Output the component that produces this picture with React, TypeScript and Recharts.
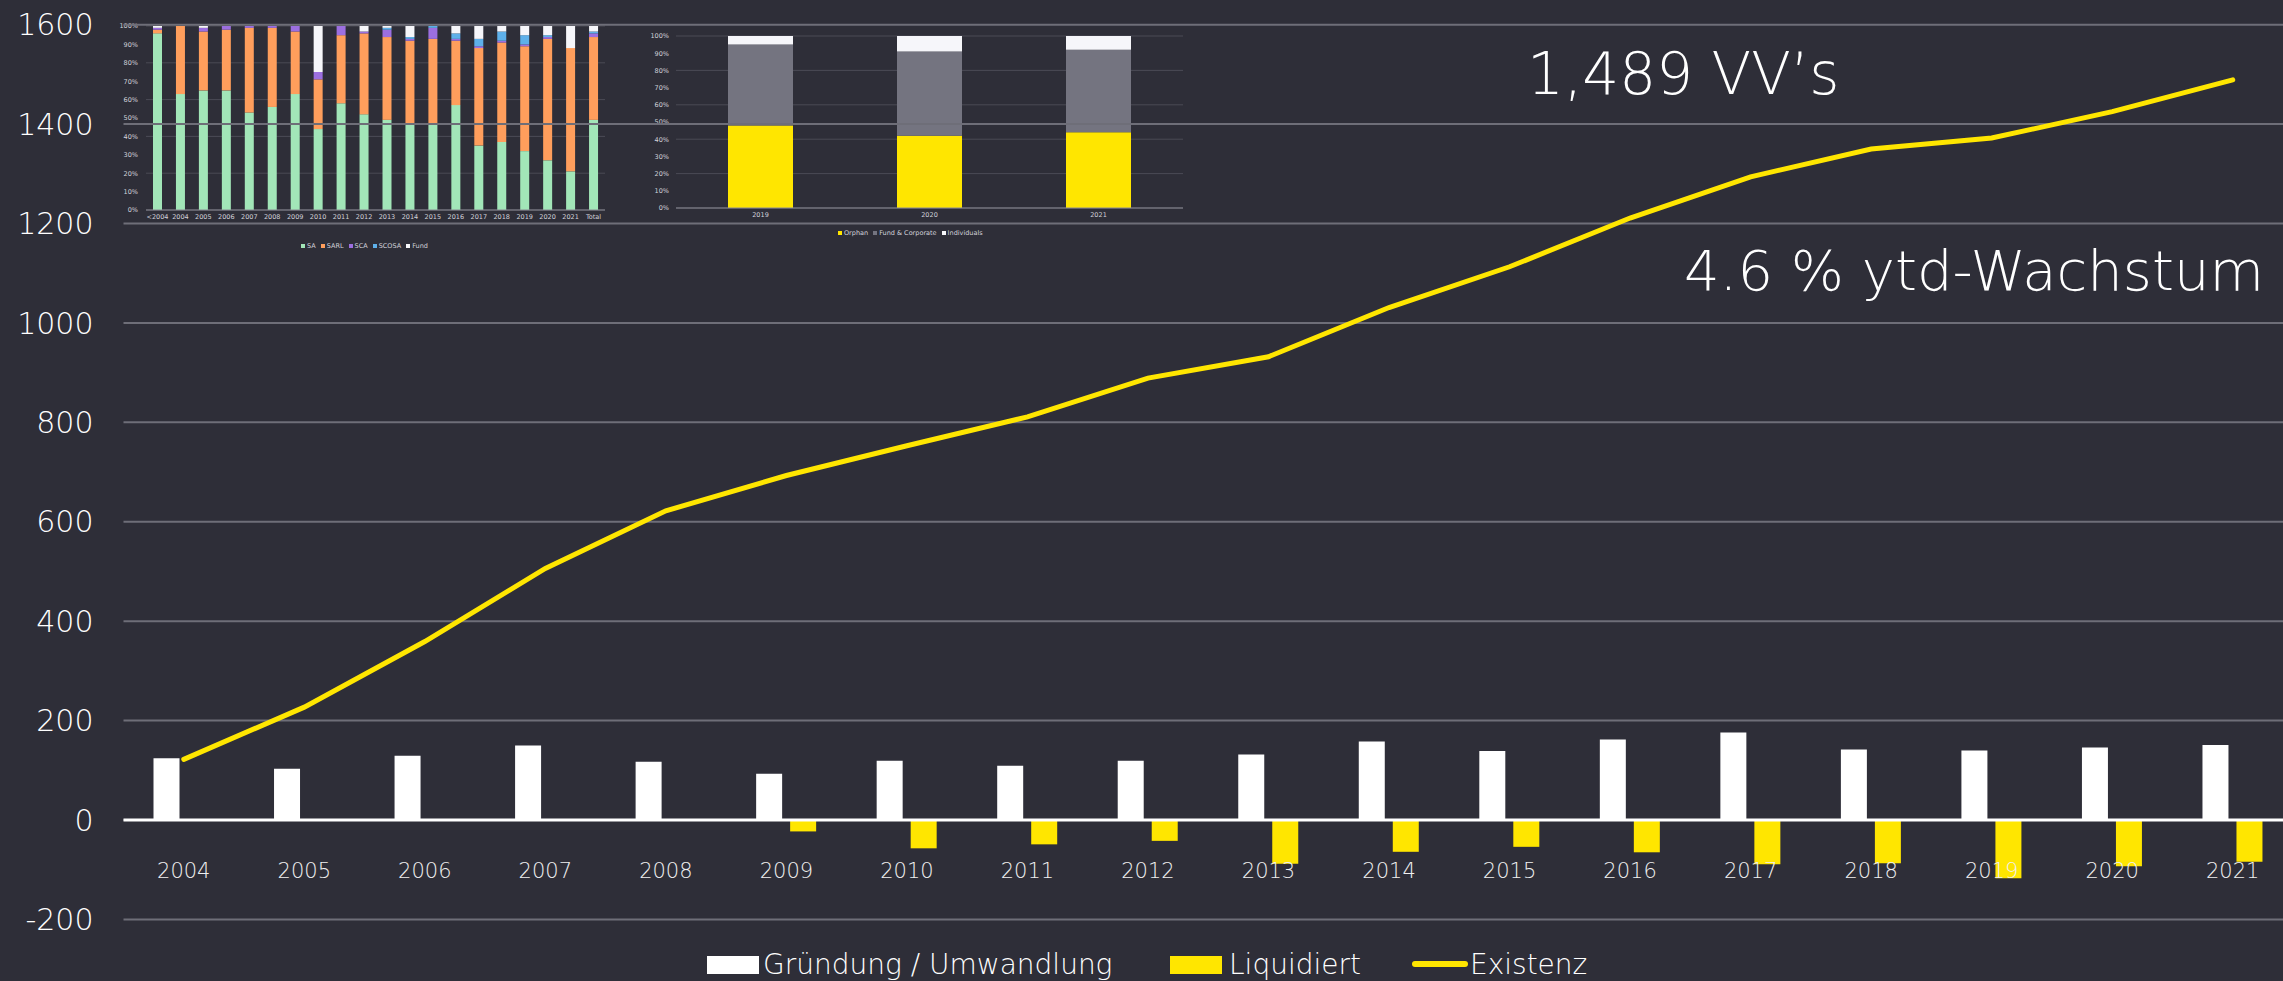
import React from 'react';
import {
  ComposedChart,
  BarChart,
  Bar,
  Line,
  XAxis,
  YAxis,
  CartesianGrid,
  ReferenceLine,
} from 'recharts';

// main chart: company foundings, liquidations and total count per year
const years = ['2004', '2005', '2006', '2007', '2008', '2009', '2010', '2011', '2012', '2013', '2014', '2015', '2016', '2017', '2018', '2019', '2020', '2021'];
const gruendung = [124, 103, 129, 150, 117, 93, 119, 109, 119, 132, 158, 139, 162, 176, 142, 140, 146, 151];
const liquidiert = [null, null, null, null, null, -23, -57, -49, -42, -88, -64, -54, -65, -89, -87, -117, -93, -84];
const existenz = [122, 227, 359, 506, 622, 693, 753, 811, 889, 932, 1031, 1113, 1211, 1294, 1350, 1372, 1425, 1489];
const yTicks = [-200, 0, 200, 400, 600, 800, 1000, 1200, 1400, 1600];

// inset 1: legal form share per year
const formCats = ['<2004', '2004', '2005', '2006', '2007', '2008', '2009', '2010', '2011', '2012', '2013', '2014', '2015', '2016', '2017', '2018', '2019', '2020', '2021', 'Total'];
const saShare = [96, 63, 65, 65, 53, 56, 63, 44, 58, 52, 49, 47, 47, 57, 35, 37, 32, 27, 21, 49];
const sarlShare = [2, 37, 32, 33, 46, 43, 34, 27, 37, 44, 45, 45, 46, 35, 53, 54, 57, 66, 67, 45];
const scaShare = [1, 0, 2, 2, 1, 1, 3, 4, 5, 1, 4, 1, 6, 1, 1, 1, 1, 1, 0, 2];
const scosaShare = [0, 0, 0, 0, 0, 0, 0, 0, 0, 0, 1, 1, 1, 3, 4, 5, 5, 1, 0, 1];
const fundShare = [1, 0, 1, 0, 0, 0, 0, 25, 0, 3, 1, 6, 0, 4, 7, 3, 5, 5, 12, 3];

// inset 2: ownership share
const ownerYears = ['2019', '2020', '2021'];
const orphan = [48, 42, 44];
const fundCorp = [47, 49, 48];
const individuals = [5, 9, 8];

const mainData = years.map((year, i) => ({
  year,
  gruendung: gruendung[i],
  liquidiert: liquidiert[i],
  existenz: existenz[i],
}));

const formData = formCats.map((cat, i) => ({
  cat,
  SA: saShare[i],
  SARL: sarlShare[i],
  SCA: scaShare[i],
  SCOSA: scosaShare[i],
  Fund: fundShare[i],
}));

const ownerData = ownerYears.map((year, i) => ({
  year,
  orphan: orphan[i],
  fundCorp: fundCorp[i],
  individuals: individuals[i],
}));

const BG = '#2e2e38';
const YELLOW = '#ffe600';
const FONT = "'DejaVu Sans', sans-serif";
const pctTicks = [0, 0.1, 0.2, 0.3, 0.4, 0.5, 0.6, 0.7, 0.8, 0.9, 1];
const pct = (v: number) => `${Math.round(v * 100)}%`;
const smallTick = { fill: '#d2d2da', fontSize: 6.5, fontFamily: FONT };

// year labels sit just under the zero line, not at the bottom of the plot
const YearTick = ({ x, y, payload }: any) => (
  <text
    x={x}
    y={y}
    dy={-48}
    textAnchor="middle"
    dominantBaseline="central"
    fill="#f0f0f0"
    fontSize={21}
    fontWeight={200}
    fontFamily={FONT}
  >
    {payload.value}
  </text>
);

const SmallLegend = ({ left, top, items }: { left: number; top: number; items: { label: string; color: string }[] }) => (
  <div style={{ position: 'absolute', left, top, display: 'flex', gap: 5, fontFamily: FONT, fontSize: 6.5, color: '#d2d2da', lineHeight: '8px' }}>
    {items.map((it) => (
      <div key={it.label} style={{ display: 'flex', alignItems: 'center', gap: 2 }}>
        <span style={{ width: 4, height: 4, background: it.color, display: 'inline-block' }} />
        {it.label}
      </div>
    ))}
  </div>
);

const App: React.FC = () => {
  return (
    <div style={{ position: 'fixed', left: 0, top: 0, width: 2283, height: 981, background: BG, overflow: 'hidden' }}>
      {/* inset: legal forms */}
      <div style={{ position: 'absolute', left: 0, top: 0 }}>
        <BarChart width={640} height={240} data={formData} stackOffset="expand" margin={{ top: 26, right: 35, left: 0, bottom: 16 }} barSize={9}>
          <CartesianGrid vertical={false} stroke="#4a4a55" strokeWidth={1} />
          <XAxis dataKey="cat" axisLine={{ stroke: '#8a8a94' }} tickLine={false} tickSize={0} tickMargin={4} height={14} interval={0} tick={smallTick} />
          <YAxis width={146} domain={[0, 1]} ticks={pctTicks} tickFormatter={pct} axisLine={false} tickLine={false} tickSize={0} tickMargin={8} tick={smallTick} />
          <Bar dataKey="SA" stackId="f" fill="#a2e6b8" isAnimationActive={false} />
          <Bar dataKey="SARL" stackId="f" fill="#ff9e5c" isAnimationActive={false} />
          <Bar dataKey="SCA" stackId="f" fill="#9c6fe0" isAnimationActive={false} />
          <Bar dataKey="SCOSA" stackId="f" fill="#5eb0ea" isAnimationActive={false} />
          <Bar dataKey="Fund" stackId="f" fill="#f6f6fa" isAnimationActive={false} />
        </BarChart>
      </div>
      <SmallLegend
        left={301}
        top={242}
        items={[
          { label: 'SA', color: '#a2e6b8' },
          { label: 'SARL', color: '#ff9e5c' },
          { label: 'SCA', color: '#9c6fe0' },
          { label: 'SCOSA', color: '#5eb0ea' },
          { label: 'Fund', color: '#f6f6fa' },
        ]}
      />

      {/* inset: ownership */}
      <div style={{ position: 'absolute', left: 560, top: 0 }}>
        <BarChart width={640} height={240} data={ownerData} stackOffset="expand" margin={{ top: 36, right: 17, left: 0, bottom: 18 }} barSize={65}>
          <CartesianGrid vertical={false} stroke="#4a4a55" strokeWidth={1} />
          <XAxis dataKey="year" axisLine={{ stroke: '#8a8a94' }} tickLine={false} tickSize={0} tickMargin={4} height={14} tick={smallTick} />
          <YAxis width={116} domain={[0, 1]} ticks={pctTicks} tickFormatter={pct} axisLine={false} tickLine={false} tickSize={0} tickMargin={7} tick={smallTick} />
          <Bar dataKey="orphan" stackId="o" fill={YELLOW} isAnimationActive={false} />
          <Bar dataKey="fundCorp" stackId="o" fill="#747480" isAnimationActive={false} />
          <Bar dataKey="individuals" stackId="o" fill="#f6f6fa" isAnimationActive={false} />
        </BarChart>
      </div>
      <SmallLegend
        left={838}
        top={229}
        items={[
          { label: 'Orphan', color: YELLOW },
          { label: 'Fund & Corporate', color: '#747480' },
          { label: 'Individuals', color: '#f6f6fa' },
        ]}
      />

      {/* main chart */}
      <div style={{ position: 'absolute', left: 0, top: 0 }}>
        <ComposedChart width={2300} height={981} data={mainData} margin={{ top: 24.7, right: 7, left: 0, bottom: 40.6 }} barGap={8}>
          <CartesianGrid vertical={false} stroke="#6e6e78" strokeWidth={2} />
          <XAxis dataKey="year" axisLine={false} tickLine={false} tickSize={0} tickMargin={0} height={21} interval={0} tick={YearTick} />
          <YAxis
            width={123.5}
            domain={[-200, 1600]}
            ticks={yTicks}
            axisLine={false}
            tickLine={false}
            tickSize={0}
            tickMargin={30}
            tick={{ fill: '#ffffff', fontSize: 30, fontWeight: 200, fontFamily: FONT }}
          />
          <ReferenceLine y={0} stroke="#ffffff" strokeWidth={3} />
          <Bar dataKey="gruendung" fill="#ffffff" barSize={26} isAnimationActive={false} />
          <Bar dataKey="liquidiert" fill={YELLOW} barSize={26} isAnimationActive={false} />
          <Line type="linear" dataKey="existenz" stroke={YELLOW} strokeWidth={5} strokeLinecap="round" dot={false} isAnimationActive={false} />
        </ComposedChart>
      </div>

      {/* annotations and legend */}
      <svg width={2283} height={981} style={{ position: 'absolute', left: 0, top: 0, pointerEvents: 'none' }} fontFamily={FONT} fontWeight={200}>
        <text x={1527} y={94} fill="#ffffff" fontSize={58}>1,489 VV’s</text>
        <text x={2264} y={290} fill="#ffffff" fontSize={56} textAnchor="end">4.6 % ytd-Wachstum</text>

        <rect x={707} y={956} width={52} height={18} fill="#ffffff" />
        <text x={763} y={974} fill="#ffffff" fontSize={28}>Gründung / Umwandlung</text>
        <rect x={1170} y={956} width={52} height={18} fill={YELLOW} />
        <text x={1229} y={974} fill="#ffffff" fontSize={28}>Liquidiert</text>
        <line x1={1415} y1={964} x2={1465} y2={964} stroke={YELLOW} strokeWidth={6} strokeLinecap="round" />
        <text x={1470} y={974} fill="#ffffff" fontSize={28}>Existenz</text>
      </svg>
    </div>
  );
};

export default App;
